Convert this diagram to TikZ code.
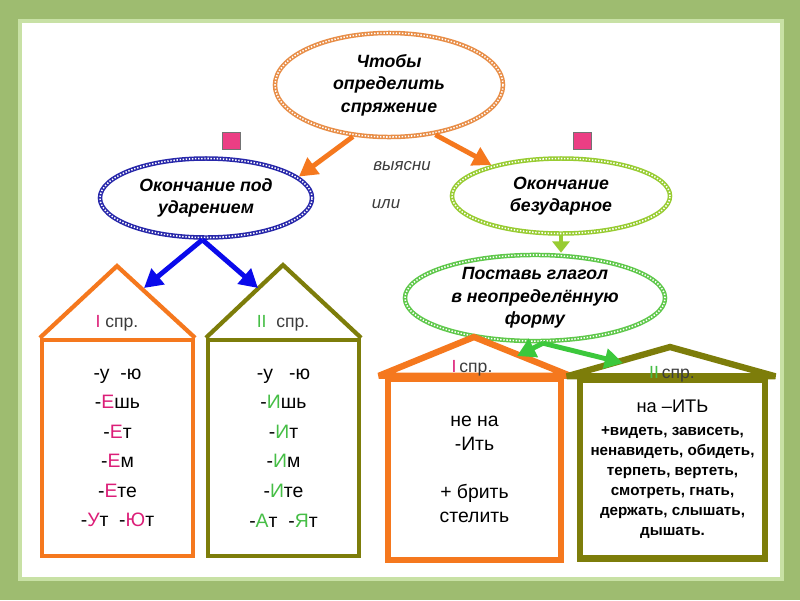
\documentclass[tikz,border=0pt]{standalone}
\usepackage{fontspec}
\setmainfont{Liberation Sans}
\usepackage{xcolor}
\usepackage{tikz}
\usetikzlibrary{arrows.meta,positioning,shapes.geometric}

\definecolor{bordergreen}{RGB}{158,188,112}
\definecolor{glowgreen}{RGB}{200,225,165}
\definecolor{orng}{RGB}{245,120,30}
\definecolor{ringor}{RGB}{232,142,72}
\definecolor{olv}{RGB}{125,125,10}
\definecolor{navyring}{RGB}{40,40,170}
\definecolor{ygreen}{RGB}{152,204,50}
\definecolor{lgreen}{RGB}{95,200,75}
\definecolor{agreen}{RGB}{60,200,60}
\definecolor{blu}{RGB}{10,10,235}
\definecolor{pnk}{RGB}{236,62,132}
\definecolor{mag}{RGB}{220,30,120}
\definecolor{grn}{RGB}{70,190,70}
\definecolor{txtgray}{RGB}{60,60,60}

\begin{document}
\begin{tikzpicture}[
  x=0.025cm, y=-0.025cm,
  oval/.style={ellipse,inner sep=0pt,align=center,
               font=\fontsize{12.6}{16}\selectfont\bfseries\itshape},
  ring/.style={draw=#1,line width=3.2pt,
               postaction={draw=white,line width=1.1pt,dash pattern=on 1pt off 1.2pt}},
  house/.style={rectangle,draw=#1,inner sep=0pt,align=center},
  ends/.style={font=\fontsize{13.8}{21}\selectfont},
  tag/.style={font=\fontsize{12.5}{14}\selectfont,text=txtgray,inner sep=0pt},
  note/.style={font=\fontsize{12}{14}\selectfont\itshape,text=txtgray},
  sq/.style={rectangle,fill=pnk,draw=black!55,line width=0.4pt,
             minimum width=0.45cm,minimum height=0.42cm,inner sep=0pt},
  arr/.style={-{Triangle[length=13pt,width=14pt]},line width=3.5pt,draw=#1},
  shortarr/.style={-{Triangle[length=8pt,width=12pt]},line width=3.2pt,draw=#1}
]
  % frame
  \fill[bordergreen] (0,0) rectangle (800,600);
  \draw[glowgreen,line width=2.5pt] (20,21) rectangle (782,579);
  \fill[white] (22,23) rectangle (780,577);

  % ovals
  \node[oval,ring=ringor,minimum width=5.7cm,minimum height=2.6cm] (goal) at (389,85)
    {Чтобы\\определить\\спряжение};
  \node[oval,ring=navyring,minimum width=5.3cm,minimum height=1.975cm] (stressed) at (206,198)
    {Окончание под\\ударением};
  \node[oval,ring=ygreen,minimum width=5.45cm,minimum height=1.875cm] (unstressed) at (561,196)
    {Окончание\\безударное};

  \node[sq] (markL) at (231,141) {};
  \node[sq] (markR) at (582,141) {};
  \node[note] (ask) at (402,166) {выясни};
  \node[note] (orr) at (386,204) {или};

  % houses for stressed endings
  \node[house=orng,ends,line width=3pt,minimum width=3.775cm,minimum height=5.4cm] (houseA) at (117.5,448)
    {-у\ \ -ю\\-\textcolor{mag}{Е}шь\\-\textcolor{mag}{Е}т\\-\textcolor{mag}{Е}м\\-\textcolor{mag}{Е}те\\
     -\textcolor{mag}{У}т\ \ -\textcolor{mag}{Ю}т};
  \draw[orng,line width=3pt] (houseA.north west) -- (117,266) -- (houseA.north east);
  \node[tag] (tagA) at (117,323) {\textcolor{mag}{I} спр.};

  \node[house=olv,ends,line width=3pt,minimum width=3.775cm,minimum height=5.4cm] (houseB) at (283.5,448)
    {-у\ \ \ -ю\\-\textcolor{grn}{И}шь\\-\textcolor{grn}{И}т\\-\textcolor{grn}{И}м\\-\textcolor{grn}{И}те\\
     -\textcolor{grn}{А}т\ \ -\textcolor{grn}{Я}т};
  \draw[olv,line width=3pt] (houseB.north west) -- (283,265) -- (houseB.north east);
  \node[tag] (tagB) at (283,323) {\textcolor{grn}{II}\ \ спр.};

  \coordinate (tipA) at (144,288);
  \coordinate (tipB) at (258,288);
  \draw[arr=orng] (goal.235) -- (stressed.13);
  \draw[arr=orng] (goal.313) -- (unstressed.156);
  \draw[arr=blu] (stressed.265) -- (tipA);
  \draw[arr=blu] (stressed.265) -- (tipB);

  % infinitive branch
  \node[oval,ring=lgreen,minimum width=6.5cm,minimum height=2.075cm] (infin) at (535,298)
    {Поставь глагол\\в неопределённую\\форму};
  \draw[shortarr=ygreen] (unstressed.south) -- (unstressed.south |- infin.north);

  \node[house=orng,ends,line width=4.5pt,minimum width=4.325cm,minimum height=4.525cm,
        font=\fontsize{13.8}{17}\selectfont] (houseC) at (474.5,469.5)
    {не на\\-Ить\\ \\+ брить\\стелить};
  \draw[orng,line width=4.5pt,miter limit=2.5] ([xshift=-0.15cm]houseC.north west) -- (474,337)
    -- ([xshift=0.15cm]houseC.north east) -- cycle;
  \node[tag] (tagC) at (472,368) {\textcolor{mag}{I}\,спр.};

  \node[house=olv,line width=4.5pt,minimum width=4.625cm,minimum height=4.475cm,
        font=\fontsize{10.8}{14.2}\selectfont\bfseries] (houseD) at (672.5,469)
    {{\fontsize{13}{17}\selectfont\mdseries на –ИТЬ}\\[2pt]+видеть, зависеть,\\ненавидеть, обидеть,\\
     терпеть, вертеть,\\смотреть, гнать,\\держать, слышать,\\дышать.};
  \draw[olv,line width=4.5pt,miter limit=2.5] ([xshift=-0.25cm]houseD.north west) -- (670,347)
    -- ([xshift=0.18cm]houseD.north east) -- cycle;
  \node[tag] (tagD) at (672,374) {\textcolor{grn}{II}\,спр.};

  \coordinate (tipC) at (517,356);
  \coordinate (tipD) at (623,363);
  \draw[arr=agreen] (infin.280) -- (tipC);
  \draw[arr=agreen] (infin.280) -- (tipD);
\end{tikzpicture}
\end{document}
